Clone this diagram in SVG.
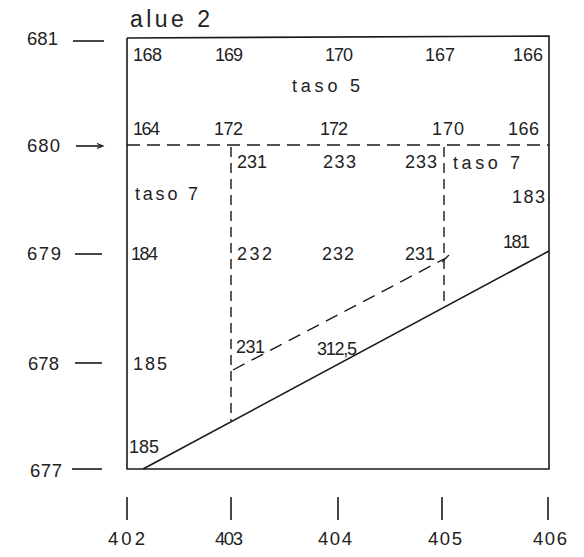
<svg xmlns="http://www.w3.org/2000/svg" width="584" height="557" viewBox="0 0 584 557">
<style>
text{font-family:"Liberation Sans","DejaVu Sans",sans-serif;font-size:18px;fill:#222}
.ax{font-size:18.5px}
.t{font-size:23px}
.ln{stroke:#1a1a1a;stroke-width:1.6;fill:none}
.dh{stroke:#1a1a1a;stroke-width:1.4;fill:none;stroke-dasharray:13 7}
.dv{stroke:#1a1a1a;stroke-width:1.4;fill:none;stroke-dasharray:10 6}
</style>
<rect width="584" height="557" fill="#fff"/>
<g id="title"><text class="t" x="130" y="27" textLength="80" lengthAdjust="spacing">alue 2</text></g>
<g id="frame">
<polyline class="ln" points="127,38 549,36 549,469 127,469 127,38"/>
</g>
<g id="connectors">
<line class="dh" x1="127" y1="145" x2="549" y2="145"/>
<line class="dv" x1="231" y1="147" x2="231" y2="421"/>
<line class="dv" x1="444" y1="147" x2="444" y2="306"/>
<line class="ln" x1="143" y1="469" x2="549" y2="251"/>
<line class="dv" x1="233" y1="370" x2="446" y2="258" style="stroke-dasharray:13 8"/>
<line class="ln" x1="442" y1="262" x2="449" y2="255" style="stroke-width:1.2"/>
</g>
<g id="y-axis">
<text class="ax" x="27" y="45" textLength="31" lengthAdjust="spacing">681</text>
<line class="ln" x1="73" y1="41" x2="104" y2="41"/>
<text class="ax" x="27" y="152" textLength="33" lengthAdjust="spacing">680</text>
<line class="ln" x1="76" y1="146" x2="102" y2="146"/>
<path d="M97,143.5 L103,146 L97,148.5" class="ln" style="stroke-width:1.2"/>
<text class="ax" x="27" y="260" textLength="34" lengthAdjust="spacing">679</text>
<line class="ln" x1="75" y1="254" x2="102" y2="254"/>
<text class="ax" x="28" y="370" textLength="31" lengthAdjust="spacing">678</text>
<line class="ln" x1="75" y1="363" x2="102" y2="363"/>
<text class="ax" x="30" y="477" textLength="32" lengthAdjust="spacing">677</text>
<line class="ln" x1="72" y1="469" x2="102" y2="469"/>
</g>
<g id="x-axis">
<line class="ln" x1="127" y1="497" x2="127" y2="520"/>
<text class="ax" x="108" y="545" textLength="37" lengthAdjust="spacing">402</text>
<line class="ln" x1="231" y1="497" x2="231" y2="520"/>
<text class="ax" x="215" y="545" textLength="28" lengthAdjust="spacing">403</text>
<line class="ln" x1="338" y1="497" x2="338" y2="520"/>
<text class="ax" x="318" y="545" textLength="34" lengthAdjust="spacing">404</text>
<line class="ln" x1="442" y1="497" x2="442" y2="520"/>
<text class="ax" x="428" y="545" textLength="34" lengthAdjust="spacing">405</text>
<line class="ln" x1="548" y1="497" x2="548" y2="520"/>
<text class="ax" x="533" y="545" textLength="34" lengthAdjust="spacing">406</text>
</g>
<g id="labels">
<text x="133" y="61" textLength="29" lengthAdjust="spacing">168</text>
<text x="215" y="61" textLength="28" lengthAdjust="spacing">169</text>
<text x="325" y="61" textLength="28" lengthAdjust="spacing">170</text>
<text x="425" y="61" textLength="30" lengthAdjust="spacing">167</text>
<text x="513" y="61" textLength="30" lengthAdjust="spacing">166</text>
<text x="292" y="92" textLength="68" lengthAdjust="spacing">taso 5</text>
<text x="133" y="135" textLength="27" lengthAdjust="spacing">164</text>
<text x="214" y="135" textLength="29" lengthAdjust="spacing">172</text>
<text x="320" y="135" textLength="28" lengthAdjust="spacing">172</text>
<text x="432" y="135" textLength="32" lengthAdjust="spacing">170</text>
<text x="508" y="135" textLength="31" lengthAdjust="spacing">166</text>
<text x="237" y="168" textLength="30" lengthAdjust="spacing">231</text>
<text x="323" y="168" textLength="33" lengthAdjust="spacing">233</text>
<text x="405" y="168" textLength="32" lengthAdjust="spacing">233</text>
<text x="453" y="169" textLength="67" lengthAdjust="spacing">taso 7</text>
<text x="135" y="200" textLength="63" lengthAdjust="spacing">taso 7</text>
<text x="512" y="203" textLength="33" lengthAdjust="spacing">183</text>
<text x="131" y="260" textLength="27" lengthAdjust="spacing">184</text>
<text x="237" y="260" textLength="35" lengthAdjust="spacing">232</text>
<text x="322" y="260" textLength="32" lengthAdjust="spacing">232</text>
<text x="405" y="260" textLength="30" lengthAdjust="spacing">231</text>
<text x="503" y="248" textLength="27" lengthAdjust="spacing">181</text>
<text x="236" y="353" textLength="29" lengthAdjust="spacing">231</text>
<text x="317" y="355" textLength="40" lengthAdjust="spacing">312,5</text>
<text x="133" y="370" textLength="34" lengthAdjust="spacing">185</text>
<text x="129" y="453" textLength="30" lengthAdjust="spacing">185</text>
</g>
</svg>
